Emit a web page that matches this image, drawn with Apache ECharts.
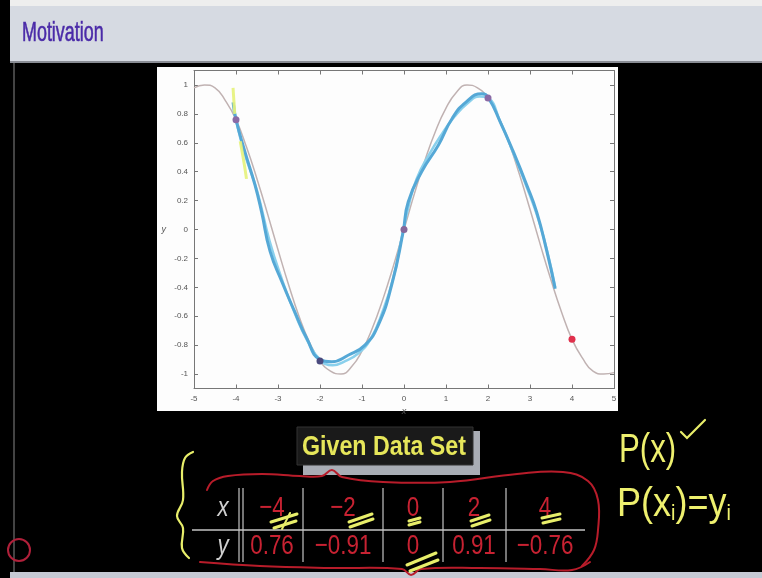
<!DOCTYPE html>
<html><head><meta charset="utf-8">
<script src="https://cdn.jsdelivr.net/npm/echarts@6/dist/echarts.min.js"></script>
<style>html,body{margin:0;padding:0;background:#000;}#c{width:762px;height:578px;}</style>
</head><body><div id="c"></div>
<script>
// ---- data ----
const slideTitle = 'Motivation';
const tableTitle = 'Given Data Set';
const xTicks = [-5, -4, -3, -2, -1, 0, 1, 2, 3, 4, 5];
const yTicks = [-1, -0.8, -0.6, -0.4, -0.2, 0, 0.2, 0.4, 0.6, 0.8, 1];
// underlying (gray) curve
const curveX = [-5, -4.75, -4.5, -4.25, -4, -3.75, -3.5, -3.25, -3, -2.75, -2.5, -2.25, -2, -1.75, -1.5, -1.25, -1, -0.75, -0.5, -0.25, 0, 0.25, 0.5, 0.75, 1, 1.25, 1.5, 1.75, 2, 2.25, 2.5, 2.75, 3, 3.25, 3.5, 3.75, 4, 4.25, 4.5, 4.75, 5];
const curveY = [0.98, 1.0, 0.98, 0.89, 0.76, 0.57, 0.35, 0.11, -0.14, -0.38, -0.6, -0.78, -0.91, -0.98, -1.0, -0.95, -0.84, -0.68, -0.48, -0.25, 0, 0.25, 0.48, 0.68, 0.84, 0.95, 1.0, 0.98, 0.91, 0.78, 0.6, 0.38, 0.14, -0.11, -0.35, -0.57, -0.76, -0.89, -0.98, -1.0, -0.99];
// hand-drawn blue fit, main stroke
const fitX = [-4.07, -4.0, -3.79, -3.55, -3.39, -3.19, -2.91, -2.6, -2.32, -2.0, -1.72, -1.33, -0.93, -0.61, -0.29, -0.02, 0.1, 0.42, 0.82, 1.15, 1.49, 1.85, 2.01, 2.29, 2.6, 2.92, 3.16, 3.4, 3.6];
const fitY = [0.88, 0.76, 0.54, 0.31, 0.12, -0.15, -0.36, -0.57, -0.75, -0.9, -0.915, -0.87, -0.8, -0.66, -0.38, -0.015, 0.19, 0.4, 0.585, 0.77, 0.885, 0.94, 0.91, 0.745, 0.54, 0.31, 0.12, -0.15, -0.41];
// hand-drawn blue fit, second lighter stroke
const fit2X = [-4.05, -4.0, -3.8, -3.5, -3.2, -2.9, -2.6, -2.3, -2.0, -1.7, -1.4, -1.1, -0.8, -0.5, -0.25, -0.05, 0.1, 0.3, 0.6, 0.9, 1.2, 1.5, 1.8, 2.0, 2.3, 2.6, 2.9, 3.2, 3.45, 3.6];
const fit2Y = [0.86, 0.76, 0.53, 0.27, -0.08, -0.35, -0.58, -0.77, -0.9, -0.94, -0.91, -0.86, -0.76, -0.56, -0.33, -0.05, 0.15, 0.35, 0.52, 0.66, 0.78, 0.87, 0.92, 0.91, 0.74, 0.53, 0.31, 0.07, -0.2, -0.4];
// yellow highlighter strokes
const hl1X = [-4.07, -4.03], hl1Y = [0.98, 0.8];
const hl2X = [-3.9, -3.82, -3.75], hl2Y = [0.61, 0.48, 0.35];
// given data set
const dataX = [-4, -2, 0, 2, 4];
const dataY = [0.76, -0.91, 0, 0.91, -0.76];

// ---- styling / layout ----
const dotColors = ['#8a6aa6', '#4a4a7e', '#86689a', '#8a6aa6', '#e0304c'];
const colCenters = [272, 343, 413, 474, 545];
const rowX = 508, rowY = 546;
const zip = (a, b) => a.map((v, i) => [v, b[i]]);
const fmt = v => (v < 0 ? '\u2212' : '') + Math.abs(v);
const ff = '"Liberation Sans", Arial, sans-serif';
const yellow = '#e8ee6a';
const hw = '#eef06e';
const hwRed = '#b81c2a';
const sq = 0.8; // horizontal squeeze to mimic a condensed face

const graphic = [
  // slide chrome
  {type: 'rect', z: -20, shape: {x: 10, y: 0, width: 752, height: 6}, style: {fill: '#eeeeee'}},
  {type: 'rect', z: -20, shape: {x: 10, y: 6, width: 752, height: 55}, style: {fill: '#d6dae2'}},
  {type: 'rect', z: -20, shape: {x: 10, y: 61, width: 752, height: 2}, style: {fill: '#8a8d95'}},
  {type: 'rect', z: -20, shape: {x: 10, y: 572, width: 752, height: 6}, style: {fill: '#c6cad4'}},
  {type: 'line', z: -19, shape: {x1: 14, y1: 63, x2: 14, y2: 572}, style: {stroke: '#5a5a5a', lineWidth: 1.5}},
  {type: 'text', x: 22, y: 33, scaleX: 0.64, style: {text: slideTitle, fill: '#4a2aa8', font: '28px ' + ff, textAlign: 'left', textVerticalAlign: 'middle', stroke: '#4a2aa8', lineWidth: 0.6}},
  // white figure area
  {type: 'rect', z: -10, shape: {x: 157, y: 67, width: 461, height: 344}, style: {fill: '#fdfdfd'}},
  // block title
  {type: 'rect', shape: {x: 303, y: 431, width: 177, height: 44}, style: {fill: '#a9adb5'}},
  {type: 'rect', shape: {x: 297, y: 427, width: 176, height: 38}, style: {fill: '#1a1a1a', stroke: '#333', lineWidth: 1}},
  {type: 'text', x: 384, y: 447, scaleX: 0.83, style: {text: tableTitle, fill: '#e6e65a', font: 'bold 28px ' + ff, textAlign: 'center', textVerticalAlign: 'middle'}},
  // table grid
  {type: 'line', shape: {x1: 192, y1: 530, x2: 585, y2: 530}, style: {stroke: '#c4c4c4', lineWidth: 1.5}},
  {type: 'text', x: 223, y: rowX, scaleX: sq, style: {text: 'x', fill: '#cfcfcf', font: 'italic 28px ' + ff, textAlign: 'center', textVerticalAlign: 'middle'}},
  {type: 'text', x: 223, y: rowY, scaleX: sq, style: {text: 'y', fill: '#cfcfcf', font: 'italic 28px ' + ff, textAlign: 'center', textVerticalAlign: 'middle'}},
];
[239, 243, 303, 383, 443, 506].forEach(x => graphic.push({type: 'line', shape: {x1: x, y1: 488, x2: x, y2: 562}, style: {stroke: '#c4c4c4', lineWidth: 1.2}}));
dataX.forEach((v, i) => {
  graphic.push({type: 'text', x: colCenters[i], y: rowX, scaleX: sq, style: {text: fmt(v), fill: '#c82232', font: '28px ' + ff, textAlign: 'center', textVerticalAlign: 'middle'}});
  graphic.push({type: 'text', x: colCenters[i], y: rowY, scaleX: sq, style: {text: fmt(dataY[i]), fill: '#c82232', font: '28px ' + ff, textAlign: 'center', textVerticalAlign: 'middle'}});
});
// hand-drawn annotations
const pl = (pts, stroke, w, smooth) => ({type: 'polyline', z: 5, shape: {points: pts, smooth: smooth || 0}, style: {stroke, lineWidth: w, fill: null, lineCap: 'round'}});
graphic.push(
  pl([[207,490],[213,481],[228,476],[262,474],[300,476],[322,476],[332,470],[342,477],[383,482],[450,482],[517,474],[563,472],[588,481],[598,500],[598,530],[594,550],[582,566]], hwRed, 2, 0.4),
  pl([[200,562],[260,566],[330,568],[402,569],[411,575],[421,569],[480,568],[540,569],[572,570],[590,562]], hwRed, 2, 0.4),
  pl([[193,452],[185,458],[182,472],[183,500],[177,516],[183,528],[182,548],[189,558]], yellow, 2.2, 0.4),
  pl([[271,522],[297,514]], yellow, 3), pl([[274,528],[296,521]], yellow, 3), pl([[282,529],[290,513]], yellow, 2),
  pl([[349,522],[372,514]], yellow, 3), pl([[350,527],[373,519]], yellow, 3),
  pl([[409,521],[420,518]], yellow, 3), pl([[409,525],[420,522]], yellow, 3),
  pl([[471,521],[489,515]], yellow, 3), pl([[472,526],[490,520]], yellow, 3),
  pl([[542,518],[560,514]], yellow, 3), pl([[543,523],[560,519]], yellow, 3),
  pl([[407,565],[436,553]], yellow, 3), pl([[410,571],[438,560]], yellow, 3),
  pl([[681,432],[687,438],[705,420]], yellow, 2.2),
  {type: 'circle', z: 5, shape: {cx: 19, cy: 550, r: 11}, style: {stroke: '#b0203a', lineWidth: 2, fill: null}},
  {type: 'text', z: 5, x: 619, y: 451, scaleX: 0.78, style: {text: 'P(x)', fill: hw, font: '40px ' + ff, textAlign: 'left', textVerticalAlign: 'middle'}},
  {type: 'text', z: 5, x: 617, y: 505, scaleX: 0.9, style: {text: '{a|P(x}{s|i}{a|)=y}{s|i}', textAlign: 'left', textVerticalAlign: 'middle',
    rich: {a: {fill: hw, fontSize: 40, fontFamily: ff, verticalAlign: 'bottom'}, s: {fill: hw, fontSize: 22, fontFamily: ff, verticalAlign: 'bottom'}}}}
);

const axisCommon = {
  type: 'value', splitLine: {show: false},
  axisLine: {show: true, onZero: false, lineStyle: {color: '#777', width: 1}},
  axisTick: {show: true, inside: true, length: 4, lineStyle: {color: '#777'}},
};
const option = {
  animation: false,
  backgroundColor: '#000',
  graphic: graphic,
  grid: {left: 194, right: 148, top: 70.5, bottom: 189.5, containLabel: false},
  xAxis: [
    Object.assign({}, axisCommon, {min: -5, max: 5, interval: 1, position: 'bottom',
      axisLabel: {color: '#555', fontSize: 8, margin: 6, customValues: xTicks},
      name: 'x', nameLocation: 'middle', nameGap: 15, nameTextStyle: {color: '#555', fontStyle: 'italic', fontSize: 9}}),
    Object.assign({}, axisCommon, {min: -5, max: 5, interval: 1, position: 'top', axisLabel: {show: false}})
  ],
  yAxis: [
    Object.assign({}, axisCommon, {min: -1.1, max: 1.1, position: 'left',
      axisTick: {show: true, inside: true, length: 4, lineStyle: {color: '#777'}, customValues: yTicks},
      axisLabel: {color: '#555', fontSize: 8, margin: 6, customValues: yTicks},
      name: 'y', nameLocation: 'middle', nameGap: 28, nameRotate: 0, nameTextStyle: {color: '#555', fontStyle: 'italic', fontSize: 9}}),
    Object.assign({}, axisCommon, {min: -1.1, max: 1.1, position: 'right',
      axisTick: {show: true, inside: true, length: 4, lineStyle: {color: '#777'}, customValues: yTicks},
      axisLabel: {show: false}})
  ],
  series: [
    {type: 'line', data: zip(curveX, curveY), smooth: true, showSymbol: false, lineStyle: {color: '#c0b2b2', width: 1.5}, z: 2},
    {type: 'line', data: zip(fit2X, fit2Y), smooth: true, showSymbol: false, lineStyle: {color: '#8ad0ec', width: 2.5}, z: 3},
    {type: 'line', data: zip(fitX, fitY), smooth: true, showSymbol: false, lineStyle: {color: '#55a8d6', width: 3}, z: 4},
    {type: 'line', data: zip(hl1X, hl1Y), smooth: true, showSymbol: false, lineStyle: {color: '#e6f27a', width: 3, opacity: 0.9}, z: 5},
    {type: 'line', data: zip(hl2X, hl2Y), smooth: true, showSymbol: false, lineStyle: {color: '#e6f27a', width: 3, opacity: 0.9}, z: 5},
    {type: 'scatter', data: zip(dataX, dataY), symbolSize: 7, z: 6,
      itemStyle: {color: p => dotColors[p.dataIndex], opacity: 1}}
  ]
};
echarts.init(document.getElementById('c')).setOption(option);
</script></body></html>
